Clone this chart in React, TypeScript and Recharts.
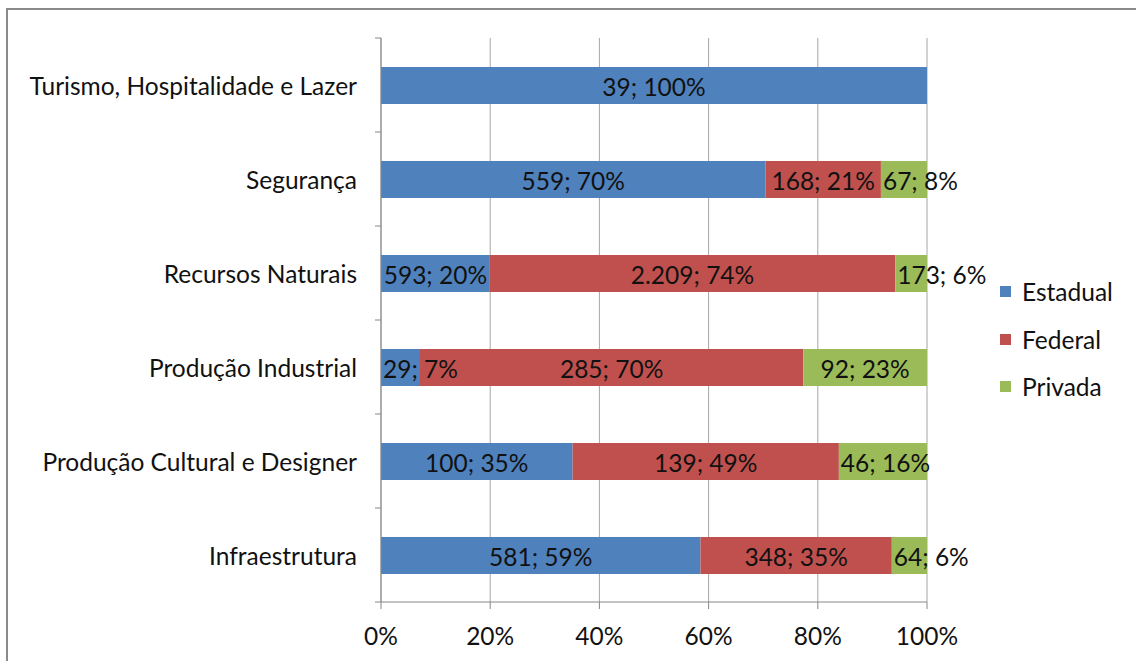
import React from "react";
import {
  BarChart,
  Bar,
  XAxis,
  YAxis,
  CartesianGrid,
  LabelList,
} from "recharts";

const categories = [
  "Turismo, Hospitalidade e Lazer",
  "Segurança",
  "Recursos Naturais",
  "Produção Industrial",
  "Produção Cultural e Designer",
  "Infraestrutura",
];
const estadual = [39, 559, 593, 29, 100, 581];
const federal = [0, 168, 2209, 285, 139, 348];
const privada = [0, 67, 173, 92, 46, 64];
const xTicks = [0, 0.2, 0.4, 0.6, 0.8, 1];

const series = [
  { key: "estadual", name: "Estadual", color: "#4F81BD", values: estadual },
  { key: "federal", name: "Federal", color: "#C0504D", values: federal },
  { key: "privada", name: "Privada", color: "#9BBB59", values: privada },
];

const FONT = "Lato, 'Open Sans', sans-serif";
const FONT_SIZE = 24.5;
const W = 1136;
const H = 661;
const TOP = 38;
const AXIS_W = 381;
const X_AXIS_H = 59;
const RIGHT = 209;
const GRID = "#a6a6a6";
const AXIS = "#868686";
const TEXT = "#111";

const fmtNum = (v: number) =>
  String(v).replace(/\B(?=(\d{3})+(?!\d))/g, ".");

// linha da tabela com valores e o rótulo "valor; %" de cada série
const data = categories.map((name, i) => {
  const total = estadual[i] + federal[i] + privada[i];
  const row: any = { name };
  series.forEach((s) => {
    const v = s.values[i];
    row[s.key] = v;
    row[s.key + "Label"] = v
      ? `${fmtNum(v)}; ${Math.round((v / total) * 100)}%`
      : "";
  });
  return row;
});

let ctx: CanvasRenderingContext2D | null = null;
const measure = (s: string) => {
  if (!ctx) ctx = document.createElement("canvas").getContext("2d");
  if (!ctx) return s.length * FONT_SIZE * 0.5;
  ctx.font = `${FONT_SIZE}px Lato`;
  return ctx.measureText(s).width;
};

const SegmentLabel = (props: any) => {
  const { x, y, width, height, value } = props;
  if (!value) return null;
  const text = String(value);
  const fits = measure(text) + 4 <= width;
  return (
    <text
      x={fits ? x + width / 2 : x + 2}
      y={y + height / 2 + 1}
      textAnchor={fits ? "middle" : "start"}
      dominantBaseline="central"
      fill={TEXT}
      fontSize={FONT_SIZE}
      fontFamily={FONT}
    >
      {text}
    </text>
  );
};

const plotH = H - TOP - X_AXIS_H;
const band = plotH / categories.length;

const CategoryTick = (props: any) => {
  const { x, y, payload, index } = props;
  const axisX = AXIS_W;
  return (
    <g>
      <line x1={axisX - 6} x2={axisX} y1={y - band / 2} y2={y - band / 2} stroke={AXIS} />
      {index === categories.length - 1 && (
        <line x1={axisX - 6} x2={axisX} y1={y + band / 2} y2={y + band / 2} stroke={AXIS} />
      )}
      <text
        x={x}
        y={y}
        textAnchor="end"
        dominantBaseline="central"
        fill={TEXT}
        fontSize={FONT_SIZE}
        fontFamily={FONT}
      >
        {payload.value}
      </text>
    </g>
  );
};

export default function App() {
  return (
    <div
      style={{
        position: "absolute",
        left: 0,
        top: 0,
        width: W,
        height: H,
        background: "#fff",
        overflow: "hidden",
        fontFamily: FONT,
      }}
    >
      <div
        style={{
          position: "absolute",
          left: 6,
          top: 8,
          width: W,
          height: H,
          borderTop: "2px solid #8a8a8a",
          borderLeft: "2px solid #8a8a8a",
        }}
      />
      <div style={{ position: "absolute", left: 0, top: 0 }}>
        <BarChart
          width={W}
          height={H}
          data={data}
          layout="vertical"
          stackOffset="expand"
          barSize={37}
          margin={{ top: TOP, right: RIGHT, bottom: 0, left: 0 }}
        >
          <CartesianGrid horizontal={false} stroke={GRID} />
          <XAxis
            type="number"
            domain={[0, 1]}
            ticks={xTicks}
            tickFormatter={(v: number) => `${Math.round(v * 100)}%`}
            height={X_AXIS_H}
            stroke={AXIS}
            tickSize={7}
            tickMargin={19}
            tick={{ fill: TEXT, fontSize: FONT_SIZE, fontFamily: FONT }}
            interval={0}
          />
          <YAxis
            type="category"
            dataKey="name"
            width={AXIS_W}
            stroke={AXIS}
            tickLine={false}
            tickSize={0}
            tickMargin={24}
            tick={<CategoryTick />}
            interval={0}
          />
          {series.map((s) => (
            <Bar
              key={s.key}
              dataKey={s.key}
              name={s.name}
              stackId="a"
              fill={s.color}
              isAnimationActive={false}
            >
              <LabelList dataKey={s.key + "Label"} content={<SegmentLabel />} />
            </Bar>
          ))}
        </BarChart>
      </div>
      <div style={{ position: "absolute", left: 1000, top: 268 }}>
        {series.map((s) => (
          <div
            key={s.key}
            style={{
              display: "flex",
              alignItems: "center",
              height: 47.5,
              fontSize: FONT_SIZE,
              color: TEXT,
            }}
          >
            <span
              style={{
                width: 11,
                height: 11,
                background: s.color,
                marginRight: 11,
                display: "inline-block",
              }}
            />
            {s.name}
          </div>
        ))}
      </div>
    </div>
  );
}
